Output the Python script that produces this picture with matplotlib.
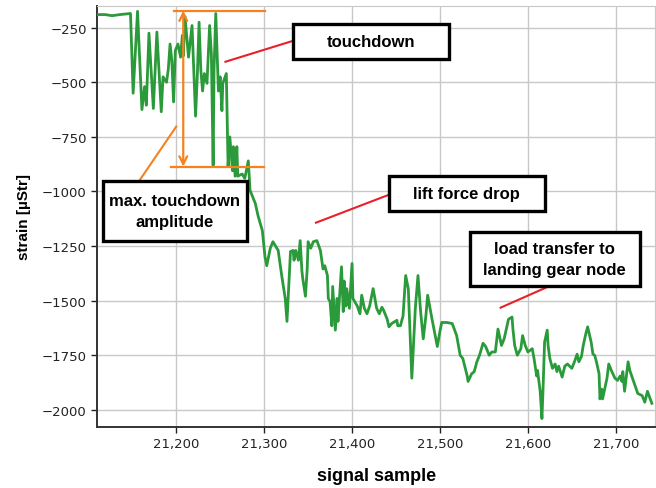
import matplotlib.pyplot as plt
from matplotlib.patches import Rectangle
from matplotlib.ticker import FuncFormatter

# strain signal around the touchdown event
sample = [21111, 21119, 21127, 21136, 21148, 21151, 21156, 21161, 21164, 21166,
          21169, 21174, 21178, 21183, 21185, 21189, 21191, 21193, 21195, 21197,
          21199, 21202, 21205, 21207, 21208, 21210, 21214, 21218, 21222, 21224,
          21226, 21228, 21230, 21232, 21235, 21238, 21240, 21242, 21243, 21245,
          21248, 21250, 21252, 21253, 21257, 21259, 21261, 21264, 21265, 21267,
          21269, 21270, 21275, 21278, 21282, 21284, 21290, 21293, 21298, 21301,
          21303, 21307, 21310, 21316, 21320, 21324, 21326, 21330, 21333, 21334,
          21336, 21339, 21341, 21343, 21344, 21347, 21349, 21350, 21353, 21356,
          21360, 21364, 21367, 21369, 21372, 21373, 21375, 21377, 21378, 21381,
          21383, 21384, 21388, 21390, 21391, 21393, 21394, 21397, 21400, 21401,
          21406, 21409, 21411, 21414, 21417, 21420, 21424, 21426, 21428, 21431,
          21434, 21436, 21440, 21442, 21445, 21449, 21451, 21452, 21455, 21458,
          21461, 21464, 21468, 21472, 21475, 21478, 21481, 21484, 21486, 21491,
          21497, 21500, 21502, 21508, 21514, 21519, 21523, 21526, 21531, 21532,
          21536, 21539, 21542, 21545, 21549, 21552, 21556, 21559, 21563, 21566,
          21570, 21573, 21576, 21578, 21582, 21583, 21585, 21588, 21592, 21594,
          21597, 21600, 21605, 21607, 21610, 21611, 21614, 21616, 21617, 21619,
          21622, 21623, 21625, 21628, 21631, 21633, 21635, 21639, 21642, 21645,
          21650, 21653, 21656, 21658, 21661, 21663, 21666, 21668, 21672, 21674,
          21676, 21678, 21681, 21682, 21684, 21685, 21690, 21692, 21695, 21699,
          21702, 21705, 21707, 21708, 21710, 21714, 21716, 21719, 21722, 21725,
          21730, 21733, 21736, 21741]

strain = [-190, -190, -195, -190, -185, -550, -175, -625, -520, -605,
          -275, -620, -270, -635, -475, -500, -440, -325, -400, -590,
          -355, -325, -385, -285, -380, -200, -385, -240, -655, -470,
          -225, -445, -540, -460, -505, -240, -370, -880, -445, -185,
          -540, -475, -630, -505, -460, -885, -750, -905, -795, -930,
          -795, -930, -920, -940, -860, -995, -1055, -1110, -1180, -1300,
          -1340, -1260, -1230, -1270, -1385, -1490, -1595, -1275, -1270, -1315,
          -1270, -1315, -1225, -1365, -1400, -1480, -1355, -1230, -1260, -1230,
          -1225, -1270, -1355, -1340, -1385, -1490, -1505, -1615, -1435, -1635,
          -1490, -1595, -1345, -1550, -1410, -1525, -1445, -1535, -1330, -1490,
          -1525, -1560, -1475, -1535, -1560, -1525, -1445, -1490, -1535, -1560,
          -1530, -1545, -1585, -1620, -1605, -1595, -1590, -1615, -1615, -1570,
          -1385, -1445, -1855, -1535, -1385, -1550, -1675, -1570, -1475, -1585,
          -1710, -1640, -1600, -1600, -1605, -1660, -1750, -1765, -1845, -1870,
          -1835, -1825, -1780, -1750, -1695, -1710, -1750, -1735, -1735, -1630,
          -1705, -1675, -1620, -1585, -1575, -1630, -1705, -1750, -1720, -1660,
          -1705, -1735, -1720, -1765, -1845, -1820, -1915, -2040, -1935, -1690,
          -1635, -1705, -1765, -1810, -1790, -1825, -1800, -1850, -1800, -1790,
          -1810, -1780, -1745, -1780, -1755, -1705, -1650, -1620, -1690, -1745,
          -1750, -1780, -1835, -1950, -1905, -1950, -1855, -1790, -1820, -1855,
          -1865, -1845, -1870, -1825, -1915, -1780, -1820, -1855, -1890, -1925,
          -1935, -1965, -1915, -1970]

x_ticks = [21200, 21300, 21400, 21500, 21600, 21700]
y_ticks = [-250, -500, -750, -1000, -1250, -1500, -1750, -2000]

# touchdown amplitude band (upper / lower strain level)
td_top, td_bottom = -172, -886

green = '#2a9a3a'
orange = '#f5821f'
red = '#e8202a'
bold_font = ['Liberation Sans', 'DejaVu Sans']

fig = plt.figure(figsize=(6.56, 4.89), dpi=100)
ax = fig.add_axes([0.148, 0.125, 0.851, 0.861])

ax.plot(sample, strain, color=green, lw=2.0, zorder=3)

ax.set_xlim(21110, 21745)
ax.set_ylim(-2078, -150)
ax.set_xticks(x_ticks)
ax.set_yticks(y_ticks)
ax.xaxis.set_major_formatter(FuncFormatter(lambda v, p: f'{int(v):,}'))
ax.grid(True, color='#c8c8c8', lw=1.0, zorder=0)
ax.tick_params(labelsize=9.5, colors='#222222', length=4, width=1)
for s in ['left', 'bottom']:
    ax.spines[s].set_color('#333333')
    ax.spines[s].set_linewidth(1.4)
for s in ['top', 'right']:
    ax.spines[s].set_color('#c8c8c8')

ax.set_xlabel('signal sample', fontsize=13, fontweight='bold', family=bold_font, labelpad=12)
ax.set_ylabel('strain [µStr]', fontsize=11, fontweight='bold', family=bold_font, labelpad=8)

# amplitude marker
ax.plot([21197, 21301], [td_top, td_top], color=orange, lw=1.6, zorder=4)
ax.plot([21194, 21300], [td_bottom, td_bottom], color=orange, lw=1.6, zorder=4)
ax.annotate('', xy=(21208, td_top), xytext=(21208, td_bottom),
            arrowprops=dict(arrowstyle='<->', color=orange, lw=1.6,
                            mutation_scale=14, shrinkA=0, shrinkB=0), zorder=4)


def label_box(x0, x1, y0, y1, text):
    ax.add_patch(Rectangle((x0, y0), x1 - x0, y1 - y0, facecolor='white',
                           edgecolor='black', lw=2.4, zorder=5))
    ax.text((x0 + x1) / 2, (y0 + y1) / 2, text, ha='center', va='center',
            fontsize=12, fontweight='bold', family=bold_font,
            linespacing=1.5, zorder=6)


ax.plot([21256, 21333], [-406, -310], color=red, lw=1.5, zorder=4)
label_box(21333, 21510, -392, -232, 'touchdown')

ax.plot([21158, 21200], [-951, -703], color=orange, lw=1.5, zorder=4)
label_box(21117, 21280, -1225, -951, 'max. touchdown\namplitude')

ax.plot([21359, 21442], [-1143, -1015], color=red, lw=1.5, zorder=4)
label_box(21442, 21619, -1088, -928, 'lift force drop')

ax.plot([21569, 21623], [-1532, -1436], color=red, lw=1.5, zorder=4)
label_box(21534, 21727, -1431, -1184, 'load transfer to\nlanding gear node')

fig.savefig('out.png', dpi=100)
